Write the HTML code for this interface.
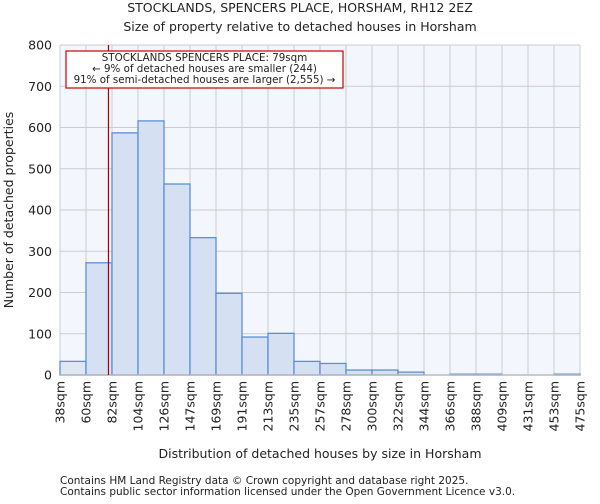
<!DOCTYPE html>
<html><head><meta charset="utf-8"><style>
body{margin:0;background:#fff;font-family:"DejaVu Sans","Liberation Sans",sans-serif;}
svg text{font-family:"DejaVu Sans","Liberation Sans",sans-serif;fill:#222;}
</style></head><body>
<svg id="chart" width="600" height="500" xmlns="http://www.w3.org/2000/svg">
<text x="300" y="12" text-anchor="middle" font-size="12.5">STOCKLANDS, SPENCERS PLACE, HORSHAM, RH12 2EZ</text>
<text x="300" y="31" text-anchor="middle" font-size="12.5">Size of property relative to detached houses in Horsham</text>
<rect x="60" y="45" width="520" height="330" fill="#f3f6fd"/>
<g id="grid"></g><g id="bars"></g><g id="axes"></g>
<text x="320" y="458" text-anchor="middle" font-size="12.5">Distribution of detached houses by size in Horsham</text>
<text transform="translate(13,210) rotate(-90)" text-anchor="middle" font-size="12.5">Number of detached properties</text>
<text x="60" y="484" font-size="10.5" fill="#444">Contains HM Land Registry data © Crown copyright and database right 2025.</text>
<text x="60" y="495" font-size="10.5" fill="#444">Contains public sector information licensed under the Open Government Licence v3.0.</text>
</svg>
<script>
const categories=["38sqm","60sqm","82sqm","104sqm","126sqm","147sqm","169sqm","191sqm","213sqm","235sqm","257sqm","278sqm","300sqm","322sqm","344sqm","366sqm","388sqm","409sqm","431sqm","453sqm","475sqm"];
const counts=[33,272,587,616,463,333,198,92,101,33,28,12,12,7,0,2,2,0,0,2];
const yTicks=[0,100,200,300,400,500,600,700,800];
const binEdges=[38,60,82,104,126,147,169,191,213,235,257,278,300,322,344,366,388,409,431,453,475];
const markerValue=79;
const NS="http://www.w3.org/2000/svg";
const X0=60,X1=580,Y0=375,Y1=45;
const xIdx=i=>X0+(X1-X0)*i/counts.length;
const y=v=>Y0-(Y0-Y1)*v/800;
function mk(t,a,p){const e=document.createElementNS(NS,t);for(const k in a)e.setAttribute(k,a[k]);p.appendChild(e);return e;}
const grid=document.getElementById('grid'),bars=document.getElementById('bars'),axes=document.getElementById('axes');
yTicks.forEach(v=>{
 const l=mk('line',{x1:X0,x2:X1,y1:y(v),y2:y(v),stroke:'#cccccc','stroke-width':1},grid);
 
 
 const t=mk('text',{x:X0-8,y:y(v)+4.5,'text-anchor':'end','font-size':12.5},axes);t.textContent=v;
 
 
});
categories.forEach((c,i)=>{
 const x=xIdx(i);
 const l=mk('line',{x1:x,x2:x,y1:Y1,y2:Y0,stroke:'#cccccc','stroke-width':1},grid);
 
 
 const t=mk('text',{transform:`translate(${x+4.5},381) rotate(-90)`,'text-anchor':'end','font-size':12.5},axes);t.textContent=c;
 
 
});
let mi=0;for(let i=0;i<binEdges.length-1;i++){if(markerValue>=binEdges[i]&&markerValue<=binEdges[i+1]){mi=i+(markerValue-binEdges[i])/(binEdges[i+1]-binEdges[i]);break;}}
const mx=X0+(X1-X0)*mi/counts.length;
counts.forEach((v,i)=>{
 const x=xIdx(i),w=xIdx(i+1)-x;
 const r=mk('rect',{x:x,y:y(v),width:w,height:Y0-y(v),fill:(xIdx(i+1)<=mx+3?'#dfe7f5':'#d5e1f3'),stroke:'#5b8fd6','stroke-width':1.3},bars);
 
 
});
const ax=mk('line',{x1:X0,x2:X1,y1:Y0,y2:Y0,stroke:'#bbb','stroke-width':1.5},axes);


const m=mk('line',{x1:mx,x2:mx,y1:Y1,y2:Y0,stroke:'#aa0000','stroke-width':1.2},axes);


const box=mk('rect',{x:66,y:51,width:277,height:37,fill:'#fff',stroke:'#cc0000','stroke-width':1.2},axes);


["STOCKLANDS SPENCERS PLACE: 79sqm","← 9% of detached houses are smaller (244)","91% of semi-detached houses are larger (2,555) →"].forEach((s,i)=>{
 const t=mk('text',{x:204.5,y:61+i*11,'text-anchor':'middle','font-size':10.3},axes);t.textContent=s;
 
 
});
</script>
</body></html>
